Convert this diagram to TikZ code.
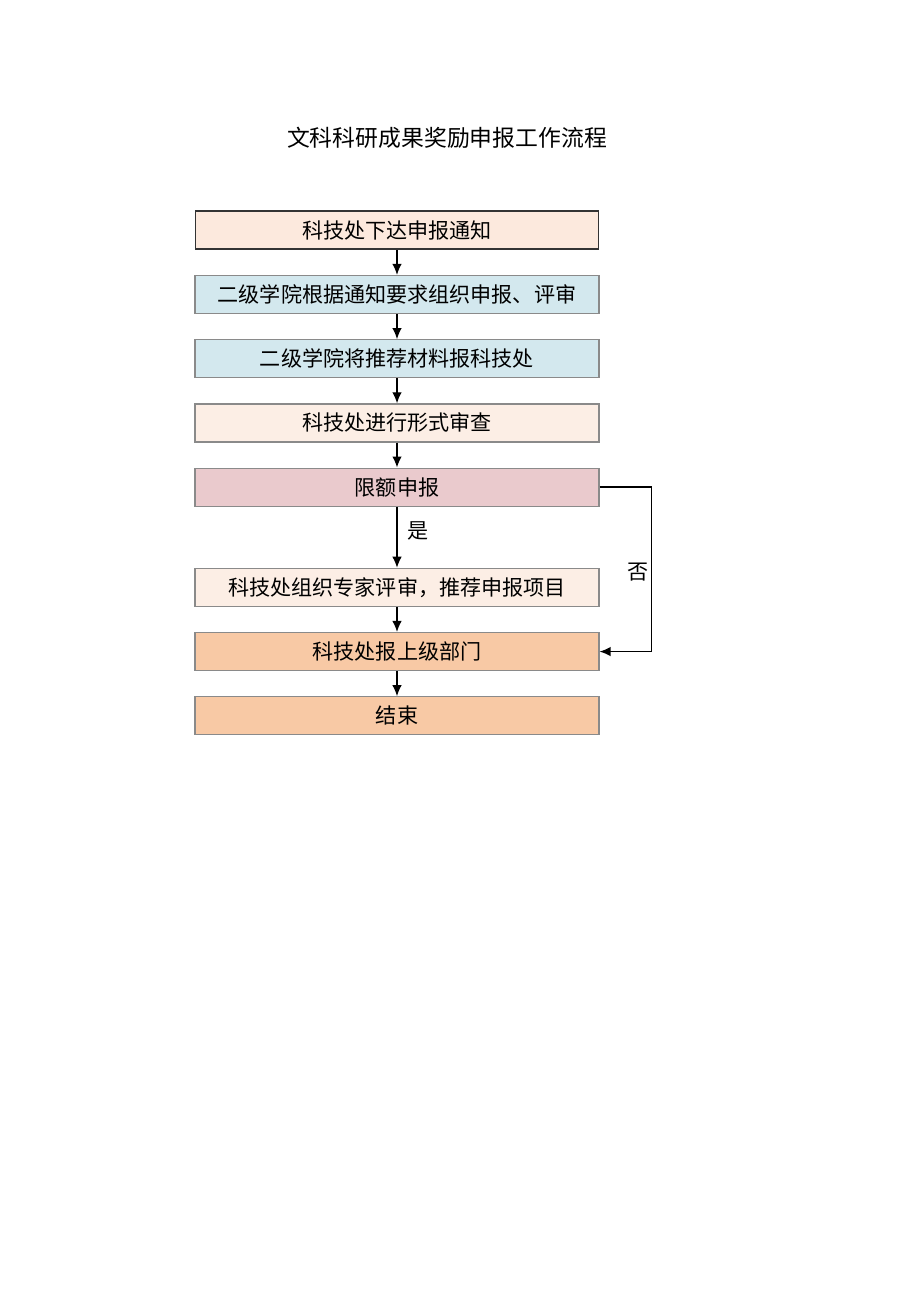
\documentclass[tikz,border=0pt]{standalone}
\usepackage{fontspec}
\setmainfont{Noto Sans CJK SC}
\usepackage{xcolor}
\usepackage{tikz}
\usetikzlibrary{shapes, arrows, arrows.meta, positioning, calc}
\definecolor{peach}{HTML}{FCE9DD}
\definecolor{paleblue}{HTML}{D3E8EE}
\definecolor{cream}{HTML}{FCEEE5}
\definecolor{rose}{HTML}{EACACD}
\definecolor{apricot}{HTML}{F8C9A5}
\definecolor{frame}{HTML}{8A8A8A}
\tikzset{
    stage/.style={
        rectangle,
        draw=frame,
        line width=0.7pt,
        minimum width=8.08cm,
        minimum height=0.76cm,
        inner sep=0pt,
        font=\fontsize{12pt}{14pt}\selectfont,
    },
    flow/.style={
        ->,
        line width=0.75pt,
    },
    answer/.style={
        font=\fontsize{12pt}{14pt}\selectfont,
    },
}

\begin{document}
\begin{tikzpicture}[x=0.02cm,y=-0.02cm,node distance=0.50cm,>={Latex[length=2.2mm,width=1.9mm]},auto]
      \useasboundingbox (0,0) rectangle (920,1301);
      \node[font=\fontsize{13pt}{15pt}\selectfont] (title) at (447,138) {文科科研成果奖励申报工作流程};

      \node [stage, fill=peach, draw=black!80, line width=1pt, minimum width=8.06cm] (notice) at (397,230) {科技处下达申报通知};
      \node [stage, fill=paleblue] (organize) [below=of notice] {二级学院根据通知要求组织申报、评审};
      \node [stage, fill=paleblue] (submit) [below=of organize] {二级学院将推荐材料报科技处};
      \node [stage, fill=cream] (check) [below=of submit] {科技处进行形式审查};
      \node [stage, fill=rose] (quota) [below=of check] {限额申报};
      \node [stage, fill=cream] (review) [below=1.22cm of quota] {科技处组织专家评审，推荐申报项目};
      \node [stage, fill=apricot] (upper) [below=of review] {科技处报上级部门};
      \node [stage, fill=apricot] (finish) [below=of upper] {结束};

      \coordinate (turn) at ($(quota.east)+(52,0)$);
      \node [answer] (no) at ($(turn)+(-14,85)$) {否};

      \draw[flow] (notice) -- (organize);
      \draw[flow] (organize) -- (submit);
      \draw[flow] (submit) -- (check);
      \draw[flow] (check) -- (quota);
      \draw[flow] (quota) -- node[answer, right, xshift=2pt, pos=0.4] {是} (review);
      \draw[flow] (review) -- (upper);
      \draw[flow] (upper) -- (finish);
      \draw[flow] (quota.east) -- (turn) |- (upper.east);

    \end{tikzpicture}
\end{document}
